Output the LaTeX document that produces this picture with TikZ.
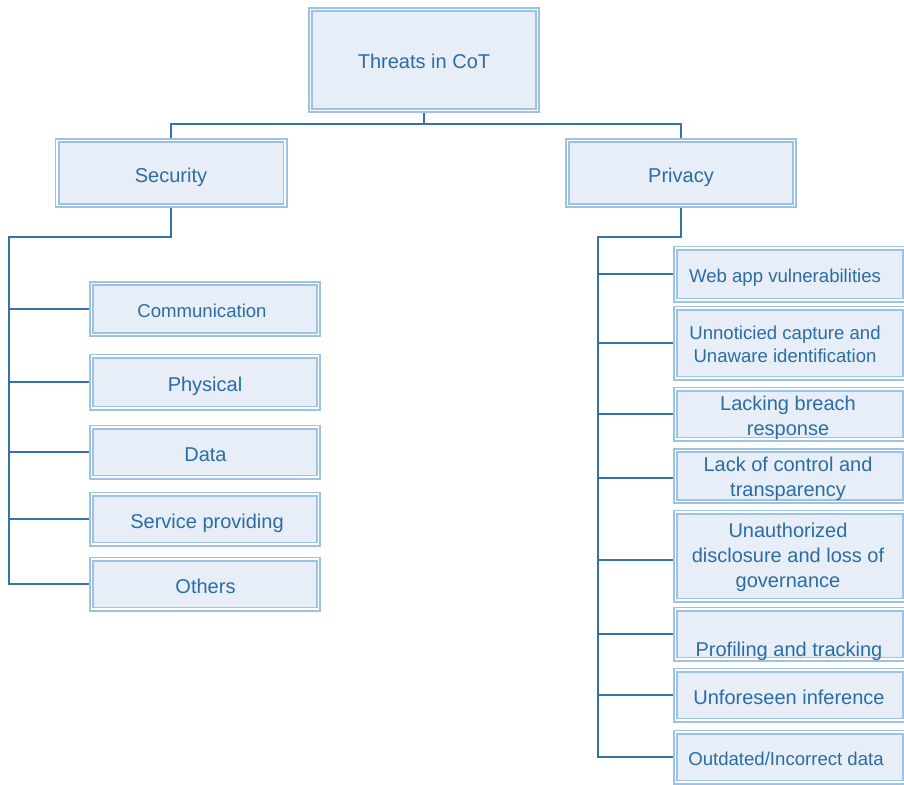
\documentclass[tikz,border=0pt]{standalone}
\usepackage{fontspec}
\setmainfont{Liberation Sans}
\usetikzlibrary{backgrounds}
\definecolor{txt}{HTML}{2B6CA3}
\definecolor{bord}{HTML}{9CC2E5}
\definecolor{boxfill}{HTML}{E7EEF8}
\definecolor{conn}{HTML}{3572A8}
\begin{document}
\begin{tikzpicture}[x=1pt,y=-1pt,
  box/.style={draw=bord, line width=1.6pt, double=white, double distance=1.8pt,
    fill=boxfill, inner sep=0pt, rectangle},
  lbl/.style={text=txt, font=\fontsize{20}{25}\selectfont, inner sep=0pt,
    anchor=base, align=center},
  lbls/.style={text=txt, font=\fontsize{18.6}{23}\selectfont, inner sep=0pt,
    anchor=base, align=center},
  link/.style={draw=conn, line width=2pt}]
\useasboundingbox (0,0) rectangle (904,784);
\clip (0,0) rectangle (904,784);

% boxes
\node[box, minimum width=227pt, minimum height=101pt] (root) at (424,60) {};
\node[box, minimum width=228pt, minimum height=65pt] (sec) at (171,173) {};
\node[box, minimum width=227pt, minimum height=65pt] (pri) at (681,173) {};

\node[box, minimum width=227pt, minimum height=51pt] (com) at (205,309) {};
\node[box, minimum width=227pt, minimum height=52pt] (phy) at (205,382) {};
\node[box, minimum width=227pt, minimum height=50pt] (dat) at (205,452) {};
\node[box, minimum width=227pt, minimum height=50pt] (ser) at (205,519) {};
\node[box, minimum width=227pt, minimum height=50pt] (oth) at (205,584) {};

\node[box, minimum width=229pt, minimum height=52pt] (web) at (790,274) {};
\node[box, minimum width=229pt, minimum height=70pt] (unn) at (790,343) {};
\node[box, minimum width=229pt, minimum height=50pt] (lbr) at (790,414) {};
\node[box, minimum width=229pt, minimum height=51pt] (lco) at (790,476) {};
\node[box, minimum width=229pt, minimum height=88pt] (una) at (790,556) {};
\node[box, minimum width=229pt, minimum height=50pt] (pro) at (790,634) {};
\node[box, minimum width=229pt, minimum height=50pt] (unf) at (790,695) {};
\node[box, minimum width=229pt, minimum height=50pt] (out) at (790,757) {};

% connectors
\coordinate (rbus) at (424,124);
\coordinate (sbus) at (9,237);
\coordinate (pbus) at (598,237);
\begin{scope}[on background layer]
\draw[link] (root.south) -- (rbus);
\draw[link] (sec.north) |- (rbus) -| (pri.north);
\draw[link] (sec.south) |- (sbus) -- (sbus |- oth.west) -- (oth.west);
\foreach \c in {com,phy,dat,ser}{
  \draw[link] (sbus |- \c.west) -- (\c.west);
}
\draw[link] (pri.south) |- (pbus) -- (pbus |- out.west) -- (out.west);
\foreach \c in {web,unn,lbr,pro,unf}{
  \draw[link] (pbus |- \c.west) -- (\c.west);
}
\draw[link] (pbus |- lco.west) ++(0,2) -- ++(78,0);
\draw[link] (pbus |- una.west) ++(0,4) -- ++(78,0);
\end{scope}

% labels
\node[lbl] (troot) at (424,68) {Threats in CoT};
\node[lbl] (tsec) at (171,182) {Security};
\node[lbl] (tpri) at (681,182) {Privacy};

\node[lbls] (tcom) at (202,317) {Communication};
\node[lbl] (tphy) at (205,391) {Physical};
\node[lbl] (tdat) at (205.5,461) {Data};
\node[lbl] (tser) at (207,528) {Service providing};
\node[lbl] (toth) at (205.5,593) {Others};

\node[lbls] (tweb) at (785,282) {Web app vulnerabilities};
\node[lbls] (tunn) at (785,362) {Unnoticied capture and\\Unaware identification};
\node[lbl] (tlbr) at (788,435) {Lacking breach\\response};
\node[lbl] (tlco) at (788,496) {Lack of control and\\transparency};
\node[lbl] (tuna) at (788,587.7) {Unauthorized\\disclosure and loss of\\governance};
\node[lbl] (tpro) at (789,656) {Profiling and tracking};
\node[lbl] (tunf) at (789,704) {Unforeseen inference};
\node[lbls] (tout) at (786,765.7) {Outdated/Incorrect data};
\end{tikzpicture}
\end{document}
